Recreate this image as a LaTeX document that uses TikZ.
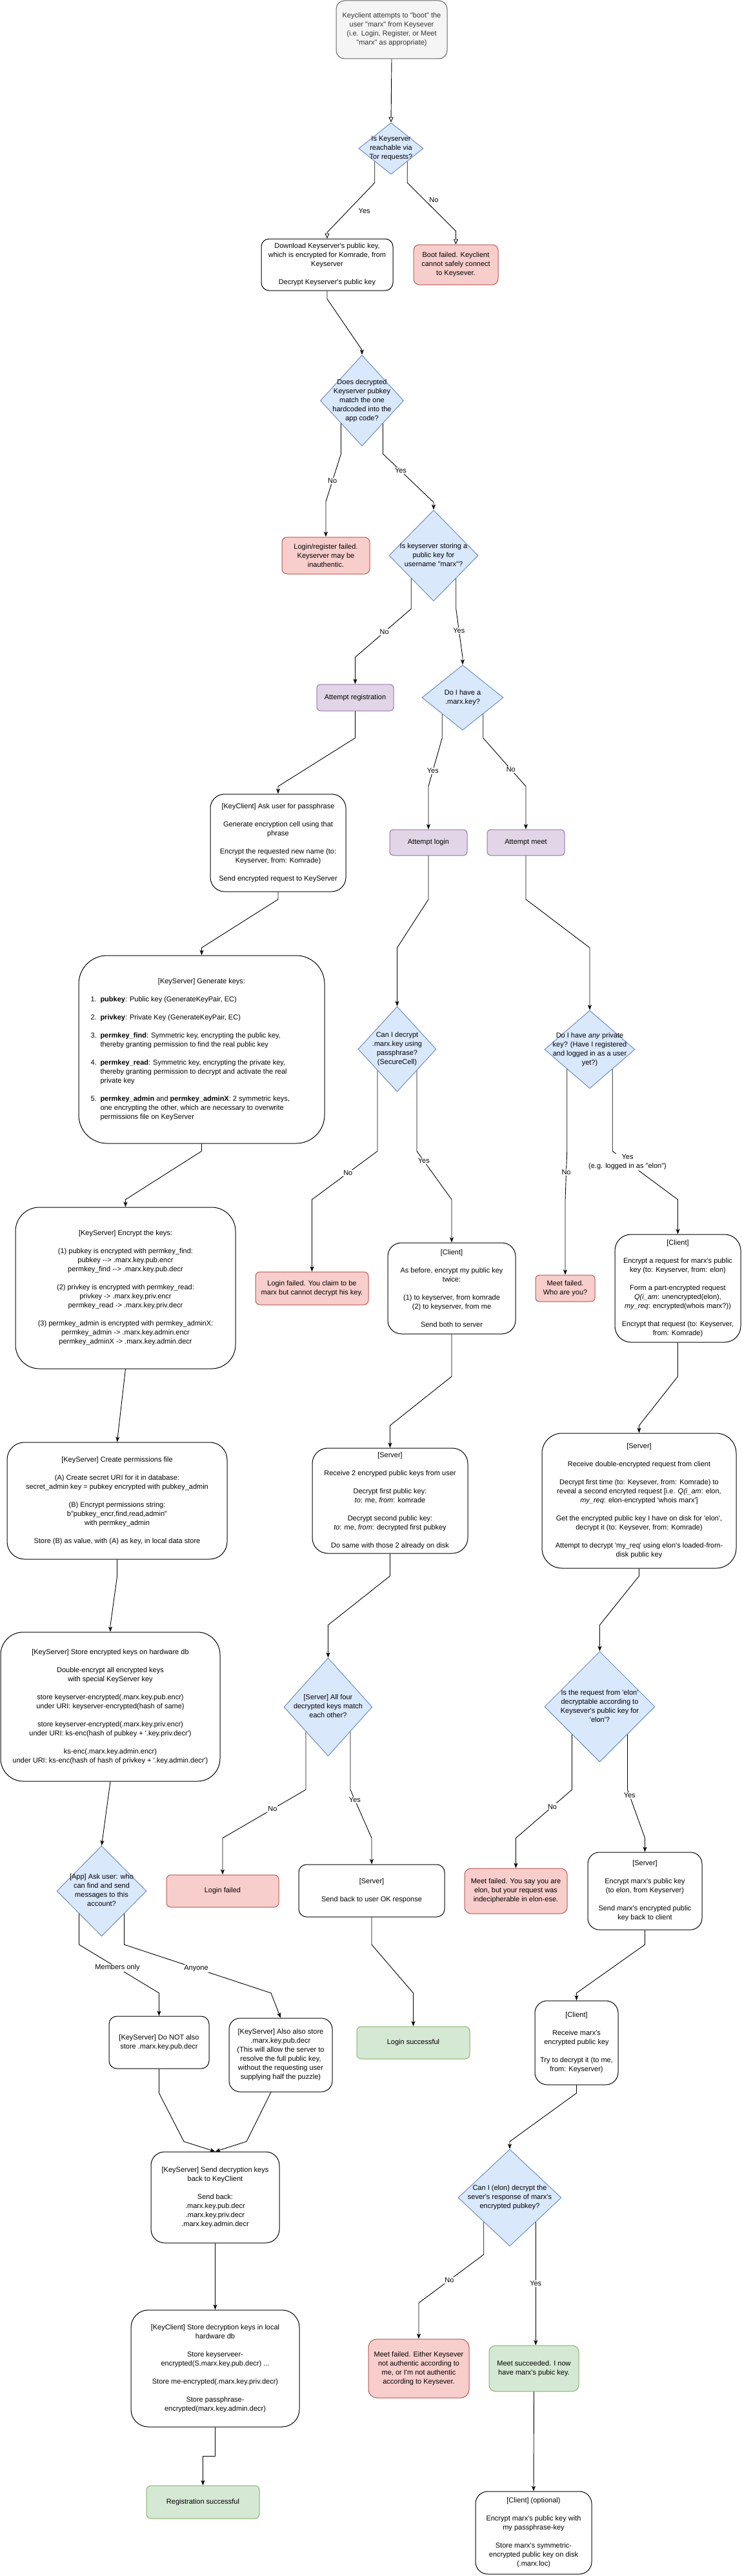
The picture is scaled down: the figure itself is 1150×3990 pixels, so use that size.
\documentclass[tikz,border=0pt]{standalone}
\usepackage{fontspec}
\newfontfamily\dfont{Liberation Sans}
\usetikzlibrary{arrows.meta,shapes.geometric}
\definecolor{startfill}{HTML}{F5F5F5}
\definecolor{startline}{HTML}{666666}
\definecolor{starttext}{HTML}{333333}
\definecolor{qfill}{HTML}{DAE8FC}
\definecolor{qline}{HTML}{6C8EBF}
\definecolor{failfill}{HTML}{F8CECC}
\definecolor{failline}{HTML}{B85450}
\definecolor{stepfill}{HTML}{E1D5E7}
\definecolor{stepline}{HTML}{9673A6}
\definecolor{okfill}{HTML}{D5E8D4}
\definecolor{okline}{HTML}{82B366}
\newcommand{\qtext}[1]{\smash{\makebox[0pt]{\raisebox{-2.7pt}{\begin{tabular}{@{}c@{}}#1\end{tabular}}}}}
\begin{document}
\begin{tikzpicture}[x=1pt, y=-1pt,
  every node/.style={font=\dfont\fontsize{11}{14}\selectfont},
  sz/.style 2 args={minimum width=#1pt, minimum height=#2pt},
  box/.style={draw, line width=1pt, rounded corners=#1pt, align=center, inner sep=2pt},
  plainbox/.style={box=#1, fill=white},
  startbox/.style={box=#1, fill=startfill, draw=startline, text=starttext},
  failbox/.style={box=#1, fill=failfill, draw=failline},
  stepbox/.style={box=#1, fill=stepfill, draw=stepline},
  okbox/.style={box=#1, fill=okfill, draw=okline},
  qbox/.style={diamond, draw=qline, fill=qfill, line width=1pt, inner sep=0pt},
  conn/.style={line width=0.9pt, -{Stealth[length=8pt, width=6pt, inset=2pt]}},
  oconn/.style={line width=0.9pt, -{Triangle[open, length=8pt, width=7pt]}},
  lbl/.style={fill=white, inner sep=1pt, align=center}]
\useasboundingbox (0,0) rectangle (1150,3990);

\node[startbox=13, sz={172}{90}] (start) at (607,46) {Keyclient attempts to "boot" the\\user "marx" from Keysever\\(i.e. Login, Register, or Meet\\"marx" as appropriate)};
\node[qbox, sz={100}{80}] (reach) at (606,230) {\qtext{Is Keyserver\\reachable via\\Tor requests?}};
\node[plainbox=12, sz={204}{80}] (download) at (507,410) {Download Keyserver's public key,\\which is encrypted for Komrade, from\\Keyserver\\[14pt]Decrypt Keyserver's public key};
\node[failbox=9, sz={131}{62}] (bootfail) at (706.5,410) {Boot failed. Keyclient\\cannot safely connect\\to Keysever.};
\node[qbox, sz={129}{141}] (match) at (561,620.5) {\qtext{Does decrypted\\Keyserver pubkey\\match the one\\hardcoded into the\\app code?}};
\node[failbox=8, sz={136}{57}] (regfail) at (505,860.5) {Login/register failed.\\Keyserver may be\\inauthentic.};
\node[qbox, sz={138}{141}] (storing) at (672,860.5) {\qtext{Is keyserver storing a\\public key for\\username "marx"?}};
\node[stepbox=6, sz={119}{41}] (attreg) at (550.5,1080.5) {Attempt registration};
\node[qbox, sz={126}{101}] (havekey) at (717,1080.5) {\qtext{Do I have a\\.marx.key?}};
\node[plainbox=22, sz={210}{151}] (askpass) at (431,1305.5) {[KeyClient] Ask user for passphrase\\[14pt]Generate encryption cell using that\\phrase\\[14pt]Encrypt the requested new name (to:\\Keyserver, from: Komrade)\\[14pt]Send encrypted request to KeyServer};
\node[stepbox=6, sz={120}{40}] (attlogin) at (664,1305) {Attempt login};
\node[stepbox=6, sz={120}{40}] (attmeet) at (815,1305) {Attempt meet};
\node[plainbox=44, sz={381}{291}] (genkeys) at (312.5,1625.5) {\parbox{344pt}{\centering [KeyServer] Generate keys:\par
\raggedright\parskip=14pt
\hangindent=15pt\hangafter=1\makebox[15pt][l]{1.}\textbf{pubkey}: Public key (GenerateKeyPair, EC)\par
\hangindent=15pt\hangafter=1\makebox[15pt][l]{2.}\textbf{privkey}: Private Key (GenerateKeyPair, EC)\par
\hangindent=15pt\hangafter=1\makebox[15pt][l]{3.}\textbf{permkey\_find}: Symmetric key, encrypting the public key,\newline thereby granting permission to find the real public key\par
\hangindent=15pt\hangafter=1\makebox[15pt][l]{4.}\textbf{permkey\_read}: Symmetric key, encrypting the private key,\newline thereby granting permission to decrypt and activate the real\newline private key\par
\hangindent=15pt\hangafter=1\makebox[15pt][l]{5.}\textbf{permkey\_admin} and \textbf{permkey\_adminX}: 2 symmetric keys,\newline one encrypting the other, which are necessary to overwrite\newline permissions file on KeyServer\par}};
\node[qbox, sz={121}{132}] (decpass) at (615.5,1625) {\qtext{Can I decrypt\\.marx.key using\\passphrase?\\(SecureCell)}};
\node[qbox, sz={140}{121}] (anykey) at (914,1625.5) {\qtext{Do I have \textit{any} private\\key? (Have I registered\\and logged in as a user\\yet?)}};
\node[plainbox=37, sz={341}{250}] (enckeys) at (194.5,1995) {[KeyServer] Encrypt the keys:\\[14pt](1) pubkey is encrypted with permkey\_find:\\pubkey -{}-> .marx.key.pub.encr\\permkey\_find -{}-> .marx.key.pub.decr\\[14pt](2) privkey is encrypted with permkey\_read:\\privkey -> .marx.key.priv.encr\\permkey\_read -> .marx.key.priv.decr\\[14pt](3) permkey\_admin is encrypted with permkey\_adminX:\\permkey\_admin -> .marx.key.admin.encr\\permkey\_adminX -> .marx.key.admin.decr};
\node[failbox=7, sz={175}{51}] (loginfail) at (483.5,1995.5) {Login failed. You claim to be\\marx but cannot decrypt his key.};
\node[plainbox=21, sz={198}{141}] (clientlogin) at (700,1995.5) {[Client]\\[14pt]As before, encrypt my public key\\twice:\\[14pt](1) to keyserver, from komrade\\(2) to keyserver, from me\\[14pt]Send both to server};
\node[failbox=6, sz={92}{41}] (meetfail) at (876,1995.5) {Meet failed.\\Who are you?};
\node[plainbox=25, sz={195}{167}] (clientmeet) at (1050.5,1995.5) {[Client]\\[14pt]Encrypt a request for marx's public\\key (to: Keyserver, from: elon)\\[14pt]Form a part-encrypted request\\\textit{Q(i\_am}: unencrypted(elon),\\\textit{my\_req}: encrypted(whois marx?))\\[14pt]Encrypt that request (to: Keyserver,\\from: Komrade)};
\node[plainbox=27, sz={341}{181}] (perms) at (181.5,2324.5) {[KeyServer] Create permissions file\\[14pt](A) Create secret URI for it in database:\\secret\_admin key = pubkey encrypted with pubkey\_admin\\[14pt](B) Encrypt permissions string:\\b"pubkey\_encr,find,read,admin"\\with permkey\_admin\\[14pt]Store (B) as value, with (A) as key, in local data store};
\node[plainbox=24, sz={241}{163}] (serverlogin) at (604.5,2324.5) {[Server]\\[14pt]Receive 2 encryped public keys from user\\[14pt]Decrypt first public key:\\\textit{to}: me, \textit{from}: komrade\\[14pt]Decrypt second public key:\\\textit{to}: me, \textit{from}: decrypted first pubkey\\[14pt]Do same with those 2 already on disk};
\node[plainbox=31, sz={301}{209}] (servermeet) at (990.5,2324.5) {[Server]\\[14pt]Receive double-encrypted request from client\\[14pt]Decrypt first time (to: Keysever, from: Komrade) to\\reveal a second encryted request [i.e. \textit{Q(i\_am}: elon,\\\textit{my\_req}: elon-encrypted 'whois marx']\\[14pt]Get the encrypted public key I have on disk for 'elon',\\decrypt it (to: Keysever, from: Komrade)\\[14pt]Attempt to decrypt 'my\_req' using elon's loaded-from-\\disk public key};
\node[plainbox=35, sz={340}{231}] (storedb) at (171,2643.5) {[KeyServer] Store encrypted keys on hardware db\\[14pt]Double-encrypt all encrypted keys\\with special KeyServer key\\[14pt]store keyserver-encrypted(.marx.key.pub.encr)\\under URI: keyserver-encrypted(hash of same)\\[14pt]store keyserver-encrypted(.marx.key.priv.encr)\\under URI: ks-enc(hash of pubkey + '.key.priv.decr')\\[14pt]ks-enc(.marx.key.admin.encr)\\under URI: ks-enc(hash of hash of privkey + '.key.admin.decr')};
\node[qbox, sz={137}{152}] (allfour) at (508.5,2644) {\qtext{[Server] All four\\decrypted keys match\\each other?}};
\node[qbox, sz={171}{171}] (fromelon) at (929.5,2643.5) {\qtext{Is the request from 'elon'\\decryptable according to\\Keysever's public key for\\'elon'?}};
\node[qbox, sz={139}{140}] (askwho) at (157.5,2929) {\qtext{[App] Ask user: who\\can find and send\\messages to this\\account?}};
\node[failbox=7, sz={174}{50}] (loginfail2) at (345,2929) {Login failed};
\node[plainbox=12, sz={226}{81}] (serverok) at (576,2928.5) {[Server]\\[14pt]Send back to user OK response};
\node[failbox=10, sz={159}{70}] (meetfail2) at (799.5,2929) {Meet failed. You say you are\\elon, but your request was\\indecipherable in elon-ese.};
\node[plainbox=18, sz={177}{120}] (serversend) at (999.5,2929) {[Server]\\[14pt]Encrypt marx's public key\\(to elon, from Keyserver)\\[14pt]Send marx's encrypted public\\key back to client};
\node[plainbox=12, sz={155}{81}] (donot) at (246.5,3163.5) {[KeyServer] Do NOT also\\store .marx.key.pub.decr};
\node[plainbox=17, sz={160}{114}] (alsostore) at (435,3183) {[KeyServer] Also also store\\.marx.key.pub.decr\\(This will allow the server to\\resolve the full public key,\\without the requesting user\\supplying half the puzzle)};
\node[okbox=7, sz={175}{50}] (loginok) at (640.5,3164) {Login successful};
\node[plainbox=19, sz={129}{130}] (clientrecv) at (893.5,3164) {[Client]\\[14pt]Receive marx's\\encrypted public key\\[14pt]Try to decrypt it (to me,\\from: Keyserver)};
\node[plainbox=21, sz={199}{141}] (sendkeys) at (333.5,3403.5) {[KeyServer] Send decryption keys\\back to KeyClient\\[14pt]Send back:\\.marx.key.pub.decr\\.marx.key.priv.decr\\.marx.key.admin.decr};
\node[qbox, sz={160}{150}] (candec) at (790,3404) {\qtext{Can I (elon) decrypt the\\sever's response of marx's\\encrypted pubkey?}};
\node[plainbox=27, sz={261}{181}] (storedecr) at (333.5,3668.5) {[KeyClient] Store decryption keys in local\\hardware db\\[14pt]Store keyserveer-\\encrypted(S.marx.key.pub.decr) ...\\[14pt]Store me-encrypted(.marx.key.priv.decr)\\[14pt]Store passphrase-\\encrypted(marx.key.admin.decr)};
\node[failbox=13, sz={156}{91}] (meetfail3) at (649,3668.5) {Meet failed. Either Keysever\\not authentic according to\\me, or I'm not authentic\\according to Keysever.};
\node[okbox=10, sz={139}{71}] (meetok) at (827.5,3668.5) {Meet succeeded. I now\\have marx's pubic key.};
\node[okbox=7, sz={175}{51}] (regok) at (314.5,3875.5) {Registration successful};
\node[plainbox=19, sz={180}{128}] (clientopt) at (827,3923) {[Client] (optional)\\[14pt]Encrypt marx's public key with\\my passphrase-key\\[14pt]Store marx's symmetric-\\encrypted public key on disk\\(.marx.loc)};

\draw[oconn] (start.south) -- (reach.north);
\draw[oconn] (reach.south west) -- (reach.south west |- 0,283) -- node[pos=.57, xshift=26pt]{Yes} (download.north |- 0,360) -- (download.north);
\draw[oconn] (reach.south east) -- (reach.south east |- 0,283) -- node[pos=.36, xshift=14pt]{No} (bootfail.north |- 0,358) -- (bootfail.north);
\draw[conn] (download.south) -- (download.south |- 0,463) -- (match.north |- 0,542) -- (match.north);
\draw[conn] (match.south west) -- (match.south west |- 0,703) -- node[lbl, pos=.57]{No} (regfail.north |- 0,777) -- (regfail.north);
\draw[conn] (match.south east) -- (match.south east |- 0,703) -- node[lbl, pos=.35]{Yes} (storing.north |- 0,778) -- (storing.north);
\draw[conn] (storing.south west) -- (storing.south west |- 0,943) -- node[lbl, pos=.48]{No} (attreg.north |- 0,1018) -- (attreg.north);
\draw[conn] (storing.south east) -- (storing.south east |- 0,943) -- node[lbl, pos=.45]{Yes} (havekey.north |- 0,1018) -- (havekey.north);
\draw[conn] (attreg.south) -- (attreg.south |- 0,1143) -- (askpass.north |- 0,1218) -- (askpass.north);
\draw[conn] (havekey.south west) -- (havekey.south west |- 0,1143) -- node[lbl, pos=.68]{Yes} (attlogin.north |- 0,1218) -- (attlogin.north);
\draw[conn] (havekey.south east) -- (havekey.south east |- 0,1143) -- node[lbl, pos=.65]{No} (attmeet.north |- 0,1218) -- (attmeet.north);
\draw[conn] (askpass.south) -- (askpass.south |- 0,1393) -- (genkeys.north |- 0,1468) -- (genkeys.north);
\draw[conn] (attlogin.south) -- (attlogin.south |- 0,1393) -- (decpass.north |- 0,1468) -- (decpass.north);
\draw[conn] (attmeet.south) -- (attmeet.south |- 0,1393) -- (anykey.north |- 0,1468) -- (anykey.north);
\draw[conn] (genkeys.south) -- (genkeys.south |- 0,1783) -- (enckeys.north |- 0,1858) -- (enckeys.north);
\draw[conn] (decpass.south west) -- (decpass.south west |- 0,1783) -- node[lbl, pos=.45]{No} (loginfail.north |- 0,1858) -- (loginfail.north);
\draw[conn] (decpass.south east) -- (decpass.south east |- 0,1783) -- node[lbl, pos=.2]{Yes} (clientlogin.north |- 0,1858) -- (clientlogin.north);
\draw[conn] (anykey.south west) -- (anykey.south west |- 0,1783) -- node[lbl, pos=.44]{No} (meetfail.north |- 0,1858) -- (meetfail.north);
\draw[conn] (anykey.south east) -- (anykey.south east |- 0,1783) -- node[lbl, pos=.23]{Yes\\(e.g. logged in as "elon")} (clientmeet.north |- 0,1858) -- (clientmeet.north);
\draw[conn] (enckeys.south) -- (perms.north);
\draw[conn] (clientlogin.south) -- (clientlogin.south |- 0,2132) -- (serverlogin.north |- 0,2208) -- (serverlogin.north);
\draw[conn] (clientmeet.south) -- (clientmeet.south |- 0,2132) -- (servermeet.north |- 0,2208) -- (servermeet.north);
\draw[conn] (perms.south) -- (perms.south |- 0,2442) -- (storedb.north |- 0,2518) -- (storedb.north);
\draw[conn] (serverlogin.south) -- (serverlogin.south |- 0,2441) -- (allfour.north |- 0,2517) -- (allfour.north);
\draw[conn] (servermeet.south) -- (servermeet.south |- 0,2441) -- (fromelon.north |- 0,2517) -- (fromelon.north);
\draw[conn] (storedb.south) -- (askwho.north);
\draw[conn] (allfour.south west) -- (allfour.south west |- 0,2772) -- node[lbl, pos=.4]{No} (loginfail2.north |- 0,2847) -- (loginfail2.north);
\draw[conn] (allfour.south east) -- (allfour.south east |- 0,2772) -- node[lbl, pos=.21]{Yes} (serverok.north |- 0,2847) -- (serverok.north);
\draw[conn] (fromelon.south west) -- (fromelon.south west |- 0,2772) -- node[lbl, pos=.35]{No} (meetfail2.north |- 0,2847) -- (meetfail2.north);
\draw[conn] (fromelon.south east) -- (fromelon.south east |- 0,2772) -- node[lbl, pos=.12]{Yes} (serversend.north |- 0,2847) -- (serversend.north);
\draw[conn] (askwho.south west) -- (askwho.south west |- 0,3012) -- node[lbl, pos=.48]{Members only} (donot.north |- 0,3087) -- (donot.north);
\draw[conn] (askwho.south east) -- (askwho.south east |- 0,3012) -- node[lbl, pos=.49]{Anyone} (420,3087) -- (alsostore.north);
\draw[conn] (serverok.south) -- (serverok.south |- 0,3012) -- (loginok.north |- 0,3087) -- (loginok.north);
\draw[conn] (serversend.south) -- (serversend.south |- 0,3012) -- (clientrecv.north |- 0,3087) -- (clientrecv.north);
\draw[conn] (donot.south) -- (donot.south |- 0,3242) -- (285,3317) -- (sendkeys.north);
\draw[conn] (alsostore.south -| 420,0) -- (382,3317) -- (sendkeys.north);
\draw[conn] (clientrecv.south) -- (clientrecv.south |- 0,3242) -- (candec.north |- 0,3317) -- (candec.north);
\draw[conn] (sendkeys.south) -- (storedecr.north);
\draw[conn] (candec.south west) -- (candec.south west |- 0,3492) -- node[lbl, pos=.53]{No} (meetfail3.north |- 0,3567) -- (meetfail3.north);
\draw[conn] (candec.south east) -- node[lbl, pos=.5]{Yes} (candec.south east |- meetok.north);
\draw[conn] (storedecr.south) -- ++(0,45) -| (regok.north);
\draw[conn] (meetok.south) -- (clientopt.north);

\end{tikzpicture}
\end{document}
